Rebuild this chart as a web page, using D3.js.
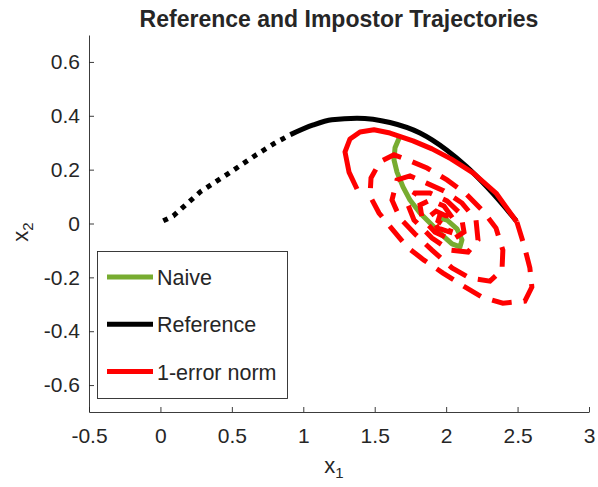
<!DOCTYPE html>
<html>
<head>
<meta charset="utf-8">
<script src="https://cdn.jsdelivr.net/npm/d3@7"></script>
<style>
  body { margin: 0; background: #fff; }
  svg text { font-family: "Liberation Sans", Arial, Helvetica, sans-serif; fill: #262626; }
</style>
</head>
<body>
<svg id="chart" width="598" height="487"></svg>
<script>
// reference trajectory: dotted past part and solid part
const pastX = [0.02, 0.09, 0.28, 0.48, 0.67, 0.80, 0.91]
const pastY = [0.01, 0.028, 0.118, 0.187, 0.255, 0.298, 0.33]
const refX = [0.91, 1.07, 1.2, 1.376, 1.607, 1.817, 2.003, 2.143, 2.283, 2.467, 2.49]
const refY = [0.33, 0.366, 0.385, 0.391, 0.375, 0.336, 0.273, 0.211, 0.137, 0.025, 0.01]

// naive trajectory
const naiveX = [1.677, 1.642, 1.635, 1.656, 1.698, 1.747, 1.817, 1.887, 1.978, 2.041, 2.097, 2.111, 2.076, 2.006, 1.957]
const naiveY = [0.325, 0.281, 0.236, 0.191, 0.136, 0.087, 0.039, 0.002, -0.046, -0.076, -0.087, -0.061, -0.020, 0.013, 0.020]

// 1-error norm: first arc (solid) then the spiral (dashed)
const errArcX = [1.376, 1.320, 1.292, 1.327, 1.397, 1.495, 1.607, 1.768, 1.901, 2.034, 2.188, 2.349, 2.495]
const errArcY = [0.128, 0.191, 0.266, 0.314, 0.340, 0.348, 0.336, 0.307, 0.277, 0.240, 0.188, 0.113, 0.006]
const errX = [2.495, 2.545, 2.586, 2.600, 2.551, 2.397, 2.251, 2.111, 1.978, 1.845, 1.726, 1.621, 1.530, 1.467,
  1.474, 1.537, 1.635, 1.733, 1.866, 2.006, 2.139, 2.258, 2.349, 2.397, 2.391, 2.307, 2.167, 2.041, 1.901, 1.782, 1.677, 1.621,
  1.656, 1.747, 1.859, 1.985, 2.111, 2.209, 2.223, 2.153, 2.027, 1.901, 1.775, 1.733,
  1.782, 1.887, 2.006, 2.104, 2.125, 2.041, 1.922, 1.831, 1.817,
  1.887, 1.985, 2.055, 2.027, 1.943, 1.887,
  1.929, 2.0, 1.992, 1.943, 1.957]
const errY = [0.006, -0.080, -0.165, -0.236, -0.288, -0.296, -0.273, -0.229, -0.184, -0.136, -0.087, -0.020, 0.039, 0.102,
  0.169, 0.229, 0.255, 0.236, 0.206, 0.162, 0.110, 0.046, -0.017, -0.099, -0.173, -0.214, -0.203, -0.165, -0.099, -0.039, 0.020, 0.087,
  0.162, 0.177, 0.151, 0.121, 0.076, 0.013, -0.061, -0.106, -0.099, -0.054, 0.013, 0.069,
  0.113, 0.113, 0.084, 0.035, -0.032, -0.061, -0.032, 0.020, 0.069,
  0.087, 0.065, 0.013, -0.032, -0.017, 0.028,
  0.046, 0.028, -0.009, 0.009, 0.032]

const xTicks = [-0.5, 0, 0.5, 1, 1.5, 2, 2.5, 3]
const xTickLabels = ["-0.5", "0", "0.5", "1", "1.5", "2", "2.5", "3"]
const yTicks = [-0.6, -0.4, -0.2, 0, 0.2, 0.4, 0.6]
const yTickLabels = ["-0.6", "-0.4", "-0.2", "0", "0.2", "0.4", "0.6"]

const legendNames = ["Naive", "Reference", "1-error norm"]
const colors = {naive: "#77AC30", ref: "#000000", err: "#FF0000"}

const svg = d3.select("#chart")
const x = d3.scaleLinear().domain([-0.5, 3]).range([89, 589])
const y = d3.scaleLinear().domain([-0.7, 0.7]).range([412, 35])

const zip = (xs, ys) => xs.map((v, i) => [v, ys[i]])
const line = d3.line().x(d => x(d[0])).y(d => y(d[1]))

// axes
const xAxis = d3.axisBottom(x)
  .tickValues(xTicks)
  .tickFormat((d, i) => xTickLabels[i])
  .tickSizeInner(-5).tickSizeOuter(0).tickPadding(16)
const yAxis = d3.axisLeft(y)
  .tickValues(yTicks)
  .tickFormat((d, i) => yTickLabels[i])
  .tickSizeInner(-5).tickSizeOuter(0).tickPadding(9)

const gx = svg.append("g").attr("transform", "translate(0,412)").call(xAxis)
const gy = svg.append("g").attr("transform", "translate(89,0)").call(yAxis)
for (const g of [gx, gy]) {
  g.select(".domain").attr("stroke", "#262626").attr("stroke-width", 0.9)
  g.selectAll(".tick line").attr("stroke", "#262626").attr("stroke-width", 0.9)
  g.selectAll(".tick text").attr("font-size", 21).attr("fill", "#262626")
    .style("font-family", '"Liberation Sans", Arial, sans-serif')
}

// lines
svg.append("path").datum(zip(naiveX, naiveY)).attr("d", line)
  .attr("fill", "none").attr("stroke", colors.naive).attr("stroke-width", 5)
  .attr("stroke-linejoin", "round")

svg.append("path").datum(zip(pastX, pastY)).attr("d", line)
  .attr("fill", "none").attr("stroke", colors.ref).attr("stroke-width", 5)
  .attr("stroke-dasharray", "5,6")
svg.append("path").datum(zip(refX, refY)).attr("d", d3.line().curve(d3.curveMonotoneX).x(d => x(d[0])).y(d => y(d[1])))
  .attr("fill", "none").attr("stroke", colors.ref).attr("stroke-width", 5)

svg.append("path").datum(zip(errArcX, errArcY)).attr("d", line)
  .attr("fill", "none").attr("stroke", colors.err).attr("stroke-width", 5)
  .attr("stroke-linejoin", "round")
svg.append("path").datum(zip(errX, errY)).attr("d", line)
  .attr("fill", "none").attr("stroke", colors.err).attr("stroke-width", 5)
  .attr("stroke-dasharray", "20,12")

// title and axis labels
svg.append("text").attr("x", 339).attr("y", 27).attr("text-anchor", "middle")
  .attr("font-size", 23).attr("font-weight", "bold").attr("fill", "#000")
  .text("Reference and Impostor Trajectories")

const xl = svg.append("text").attr("x", 334).attr("y", 473).attr("text-anchor", "middle").attr("font-size", 22)
xl.append("tspan").text("x")
xl.append("tspan").attr("font-size", 15).attr("dy", 5).text("1")

const yl = svg.append("text").attr("transform", "translate(28,232) rotate(-90)").attr("text-anchor", "middle").attr("font-size", 22)
yl.append("tspan").text("x")
yl.append("tspan").attr("font-size", 15).attr("dy", 5).text("2")

// legend
const legend = svg.append("g")
legend.append("rect").attr("x", 97.5).attr("y", 251.5).attr("width", 190).attr("height", 147)
  .attr("fill", "#fff").attr("stroke", "#262626").attr("stroke-width", 0.9)
const legendColors = [colors.naive, colors.ref, colors.err]
legendNames.forEach((name, i) => {
  const ly = 277 + i * 47.3
  legend.append("line").attr("x1", 107).attr("x2", 153).attr("y1", ly).attr("y2", ly)
    .attr("stroke", legendColors[i]).attr("stroke-width", 5)
  legend.append("text").attr("x", 157).attr("y", ly + 8).attr("font-size", 21.5).text(name)
})
</script>
</body>
</html>
